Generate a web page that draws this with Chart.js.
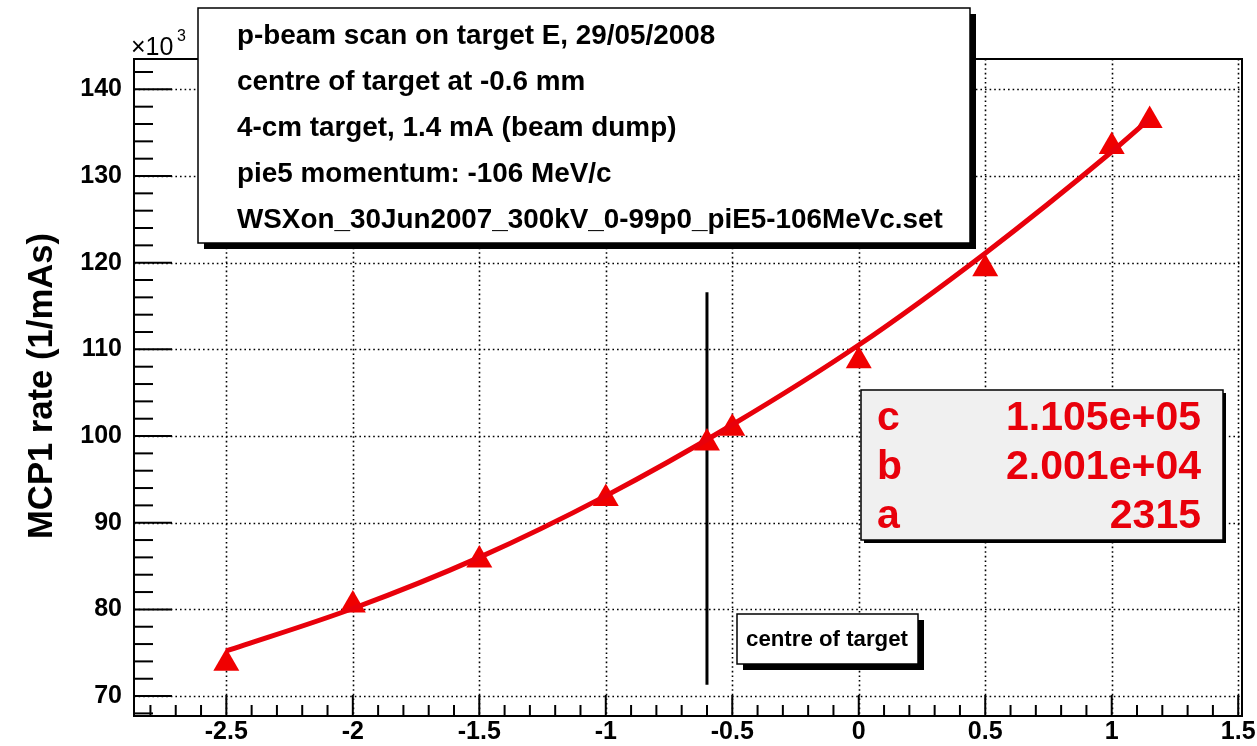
<!DOCTYPE html>
<html><head><meta charset="utf-8">
<script src="https://cdn.jsdelivr.net/npm/chart.js@4.4.1/dist/chart.umd.min.js"></script>
<style>html,body{margin:0;padding:0;background:#fff;overflow:hidden}#wrap{width:1257px;height:746px;position:relative}</style>
</head><body><div id="wrap"><canvas id="c" width="1257" height="746"></canvas></div>
<script>
// ---- data (rate in units of 10^3 /mAs) ----
const positions = [-2.5, -2, -1.5, -1, -0.6, -0.5, 0, 0.5, 1, 1.15];
const rates     = [73.8, 80.5, 85.7, 92.8, 99.2, 100.9, 108.7, 119.3, 133.4, 136.4];
const fitX      = [-2.5, -2, -1.5, -1, -0.5, 0, 0.5, 1, 1.15];
const fitY      = [75.2, 80.1, 86.0, 93.1, 101.3, 110.5, 121.1, 132.8, 136.6];
const targetX   = [-0.6, -0.6];
const targetY   = [71.3, 116.6];
const xTicks      = [-2.5, -2, -1.5, -1, -0.5, 0, 0.5, 1, 1.5];
const xTickLabels = ['-2.5', '-2', '-1.5', '-1', '-0.5', '0', '0.5', '1', '1.5'];
const yTicks      = [70, 80, 90, 100, 110, 120, 130, 140];
const yTickLabels = ['70', '80', '90', '100', '110', '120', '130', '140'];
const infoLines = [
  'p-beam scan on target E, 29/05/2008',
  'centre of target at -0.6 mm',
  '4-cm target, 1.4 mA (beam dump)',
  'pie5 momentum: -106 MeV/c',
  'WSXon_30Jun2007_300kV_0-99p0_piE5-106MeVc.set'
];
const fitNames  = ['c', 'b', 'a'];
const fitValues = ['1.105e+05', '2.001e+04', '2315'];
const yTitle = 'MCP1 rate (1/mAs)';
const targetLabel = 'centre of target';

const FAM = '"Liberation Sans", Arial, Helvetica, sans-serif';

function fitFont(ctx, text, width, weight) {
  ctx.font = weight + ' 100px ' + FAM;
  return 100 * width / ctx.measureText(text).width;
}
function pave(ctx, l, t, r, b, sh, fill) {
  ctx.fillStyle = '#000';
  ctx.fillRect(l + sh, t + sh, r - l, b - t);
  ctx.fillStyle = fill;
  ctx.fillRect(l, t, r - l, b - t);
  ctx.strokeStyle = '#000'; ctx.lineWidth = 1.5;
  ctx.strokeRect(l, t, r - l, b - t);
}

const rootPlugin = {
  id: 'rootStyle',
  beforeDatasetsDraw(chart) {
    const {ctx, chartArea: a, scales: {x, y}} = chart;
    ctx.save();
    ctx.strokeStyle = '#000'; ctx.lineWidth = 1.6; ctx.setLineDash([1.6, 3]);
    xTicks.forEach(v => { const p = Math.round(x.getPixelForValue(v)) + 0.5;
      ctx.beginPath(); ctx.moveTo(p, a.top); ctx.lineTo(p, a.bottom); ctx.stroke(); });
    yTicks.forEach(v => { const p = Math.round(y.getPixelForValue(v)) + 0.5;
      ctx.beginPath(); ctx.moveTo(a.left, p); ctx.lineTo(a.right, p); ctx.stroke(); });
    ctx.restore();
  },
  afterDraw(chart) {
    const {ctx, chartArea: a, scales: {x, y}} = chart;
    ctx.save();
    // frame
    ctx.strokeStyle = '#000'; ctx.lineWidth = 2;
    ctx.strokeRect(a.left, a.top, a.right - a.left, a.bottom - a.top);
    // ticks (inward)
    ctx.lineWidth = 2;
    for (let v = 68; v <= 142.01; v += 2) {
      const p = y.getPixelForValue(v);
      const len = (Math.round(v) % 10 === 0) ? 38 : 19;
      ctx.beginPath(); ctx.moveTo(a.left, p); ctx.lineTo(a.left + len, p); ctx.stroke();
    }
    for (let i = -28; i <= 15; i++) {
      const v = i / 10, p = x.getPixelForValue(v);
      const len = (Math.abs(i) % 5 === 0) ? 21 : 11;
      ctx.beginPath(); ctx.moveTo(p, a.bottom); ctx.lineTo(p, a.bottom - len); ctx.stroke();
    }
    // axis title
    const ts = fitFont(ctx, yTitle, 306, 'bold');
    ctx.save();
    ctx.translate(42, 386); ctx.rotate(-Math.PI / 2);
    ctx.font = 'bold ' + ts + 'px ' + FAM; ctx.fillStyle = '#000';
    ctx.textAlign = 'center'; ctx.textBaseline = 'middle';
    ctx.fillText(yTitle, 0, 0);
    ctx.restore();
    // x10^3
    ctx.fillStyle = '#000'; ctx.textAlign = 'left'; ctx.textBaseline = 'alphabetic';
    ctx.font = '25px ' + FAM;
    ctx.fillText('\u00d710', 131, 55);
    ctx.font = '16px ' + FAM;
    ctx.fillText('3', 177, 41);
    // info pave
    pave(ctx, 198, 8, 970, 243, 6, '#fff');
    const fs = fitFont(ctx, infoLines[4], 706, 'bold');
    ctx.font = 'bold ' + fs + 'px ' + FAM; ctx.fillStyle = '#000';
    ctx.textBaseline = 'middle'; ctx.textAlign = 'left';
    infoLines.forEach((t, i) => ctx.fillText(t, 237, 36 + i * 46));
    // fit parameter pave
    pave(ctx, 861, 390, 1223, 540, 3, '#f0f0f0');
    const ps = fitFont(ctx, fitValues[0], 195, 'bold');
    ctx.font = 'bold ' + ps + 'px ' + FAM; ctx.fillStyle = '#e8000b';
    fitNames.forEach((n, i) => {
      const yy = 419 + i * 49;
      ctx.textAlign = 'left'; ctx.fillText(n, 877, yy);
      ctx.textAlign = 'right'; ctx.fillText(fitValues[i], 1201, yy);
    });
    // centre of target pave
    pave(ctx, 737, 614, 918, 664, 6, '#fff');
    const cs = fitFont(ctx, targetLabel, 162, 'bold');
    ctx.font = 'bold ' + cs + 'px ' + FAM; ctx.fillStyle = '#000';
    ctx.textAlign = 'center'; ctx.textBaseline = 'middle';
    ctx.fillText(targetLabel, 827, 640);
    ctx.restore();
  }
};

const tickFont = {family: FAM, size: 25, weight: 'bold'};
new Chart(document.getElementById('c'), {
  type: 'scatter',
  data: {
    datasets: [
      {label: 'target', data: targetX.map((v, i) => ({x: v, y: targetY[i]})),
       showLine: true, borderColor: '#000', borderWidth: 3, pointRadius: 0, order: 3},
      {label: 'fit', data: fitX.map((v, i) => ({x: v, y: fitY[i]})),
       showLine: true, borderColor: '#e8000b', borderWidth: 5, pointRadius: 0,
       cubicInterpolationMode: 'monotone', order: 1},
      {label: 'data', data: positions.map((v, i) => ({x: v, y: rates[i]})),
       pointStyle: 'triangle', pointRadius: 15, pointHoverRadius: 15,
       backgroundColor: '#f00000', borderColor: '#f00000', borderWidth: 0, order: 2}
    ]
  },
  options: {
    responsive: false, animation: false, devicePixelRatio: 1,
    layout: {padding: {left: 0, top: 59, right: 14, bottom: 0}},
    plugins: {legend: {display: false}, tooltip: {enabled: false}},
    scales: {
      x: {type: 'linear', min: -2.865, max: 1.515,
          afterFit: s => { s.height = 30; },
          afterBuildTicks: s => { s.ticks = xTicks.map(v => ({value: v})); },
          grid: {display: false, drawTicks: false}, border: {display: false},
          ticks: {font: tickFont, color: '#000', padding: 1, maxRotation: 0, autoSkip: false,
                  callback: v => xTickLabels[xTicks.indexOf(v)] ?? ''}},
      y: {type: 'linear', min: 67.7, max: 143.5,
          afterFit: s => { s.width = 134; },
          afterBuildTicks: s => { s.ticks = yTicks.map(v => ({value: v})); },
          grid: {display: false, drawTicks: false}, border: {display: false},
          ticks: {font: tickFont, color: '#000', padding: 12, autoSkip: false,
                  callback: v => yTickLabels[yTicks.indexOf(v)] ?? ''}}
    }
  },
  plugins: [rootPlugin]
});
</script></body></html>
